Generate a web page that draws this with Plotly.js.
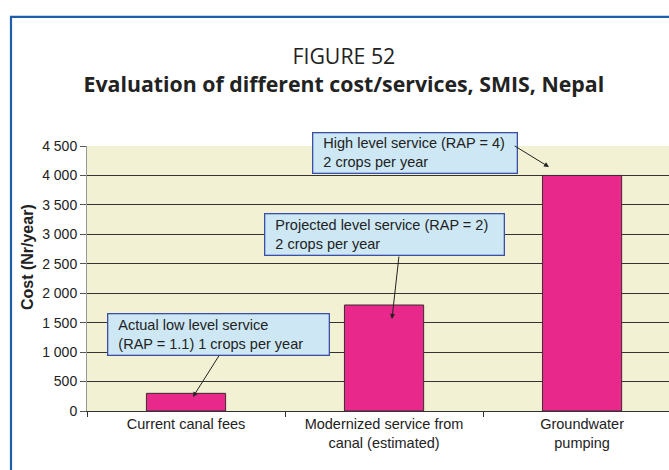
<!DOCTYPE html>
<html>
<head>
<meta charset="utf-8">
<script src="https://cdn.plot.ly/plotly-3.0.1.min.js"></script>
<style>
html,body{margin:0;padding:0;background:#fff;}
#chart{width:669px;height:470px;}
</style>
</head>
<body>
<div id="chart"></div>
<script>
// Data
var categories = ["Current canal fees", "Modernized service from<br>canal (estimated)", "Groundwater<br>pumping"];
var costs = [300, 1800, 4000];
var yTickVals = [0, 500, 1000, 1500, 2000, 2500, 3000, 3500, 4000, 4500];

// Callout texts and positions (data coords)
var calloutTexts = [
  "Actual low level service<br>(RAP = 1.1) 1 crops per year",
  "Projected level service (RAP = 2)<br>2 crops per year",
  "High level service (RAP = 4)<br>2 crops per year"
];
var calloutX = [0.162, 1.0, 1.154];
var calloutY = [1307, 3005, 4389];
var calloutW = [222, 240, 205];
var calloutH = [42, 42, 41];
// Arrows: tail -> head (data coords)
var arrowTailX = [0.172, 1.076, 1.652];
var arrowTailY = [968, 2649, 4517];
var arrowHeadX = [0.035, 1.040, 1.833];
var arrowHeadY = [238, 1562, 4143];

var FONT = "Liberation Sans, Arial, sans-serif";
var pad = 2;

function indent(t) {
  return t.split("<br>").map(function (s) { return "&nbsp;&nbsp;" + s; }).join("<br>");
}

var annotations = [];
for (var i = 0; i < calloutTexts.length; i++) {
  annotations.push({
    x: calloutX[i], y: calloutY[i], xref: "x", yref: "y",
    text: indent(calloutTexts[i]), showarrow: false,
    xanchor: "center", yanchor: "middle", align: "left", valign: "middle",
    width: calloutW[i] - 2 - 2 * pad, height: calloutH[i] - 2 - 2 * pad,
    borderpad: pad, bgcolor: "#cde8f4", bordercolor: "#3b4fa6", borderwidth: 1.3,
    font: {family: FONT, size: 14.5, color: "#222"}
  });
  annotations.push({
    x: arrowHeadX[i], y: arrowHeadY[i], xref: "x", yref: "y",
    ax: arrowTailX[i], ay: arrowTailY[i], axref: "x", ayref: "y",
    text: "", showarrow: true, arrowhead: 2, arrowsize: 1, arrowwidth: 1,
    arrowcolor: "#222", standoff: 0, startstandoff: 0
  });
}
// y-axis title
annotations.push({
  x: -0.103, y: 0.581, xref: "paper", yref: "paper",
  text: "<b>Cost (Nr/year)</b>", textangle: -90, showarrow: false,
  xanchor: "center", yanchor: "middle",
  font: {family: FONT, size: 16, color: "#222"}
});

var trace = {
  type: "bar",
  x: categories,
  y: costs,
  width: 0.4,
  marker: {color: "#e8288b", line: {color: "#3a2a30", width: 1}},
  hoverinfo: "skip"
};

var layout = {
  width: 669, height: 470,
  margin: {l: 87, r: 0, t: 146, b: 59},
  paper_bgcolor: "#ffffff",
  plot_bgcolor: "#f3f1d3",
  separators: ". ",
  showlegend: false,
  title: {
    text: "FIGURE 52<br><b>Evaluation of different cost/services, SMIS, Nepal</b>",
    font: {family: "Open Sans, sans-serif", size: 21.3, color: "#222"},
    x: 0.514, xref: "container", xanchor: "center",
    y: 1 - 64 / 470, yref: "container", yanchor: "middle"
  },
  xaxis: {
    type: "category",
    range: [-0.5, 2.439],
    tickson: "boundaries",
    ticks: "outside", ticklen: 5, tickcolor: "#333",
    showline: true, linecolor: "#333", linewidth: 1,
    showgrid: false, zeroline: false,
    tickfont: {family: FONT, size: 14.5, color: "#222"}
  },
  yaxis: {
    range: [0, 4500],
    tickvals: yTickVals,
    tickformat: ",d",
    ticks: "outside", ticklen: 6, tickcolor: "#555",
    showline: true, linecolor: "#999", linewidth: 1,
    showgrid: true, gridcolor: "#333", gridwidth: 1,
    zeroline: false,
    tickfont: {family: FONT, size: 14, color: "#222"}
  },
  annotations: annotations,
  shapes: [{
    type: "path", xref: "paper", yref: "paper",
    path: "M -0.1306,-0.3 L -0.1306,1.487 L 1.1,1.487",
    line: {color: "#1f5ea8", width: 2.2}
  }]
};

Plotly.newPlot("chart", [trace], layout, {displayModeBar: false, staticPlot: true});
</script>
</body>
</html>
